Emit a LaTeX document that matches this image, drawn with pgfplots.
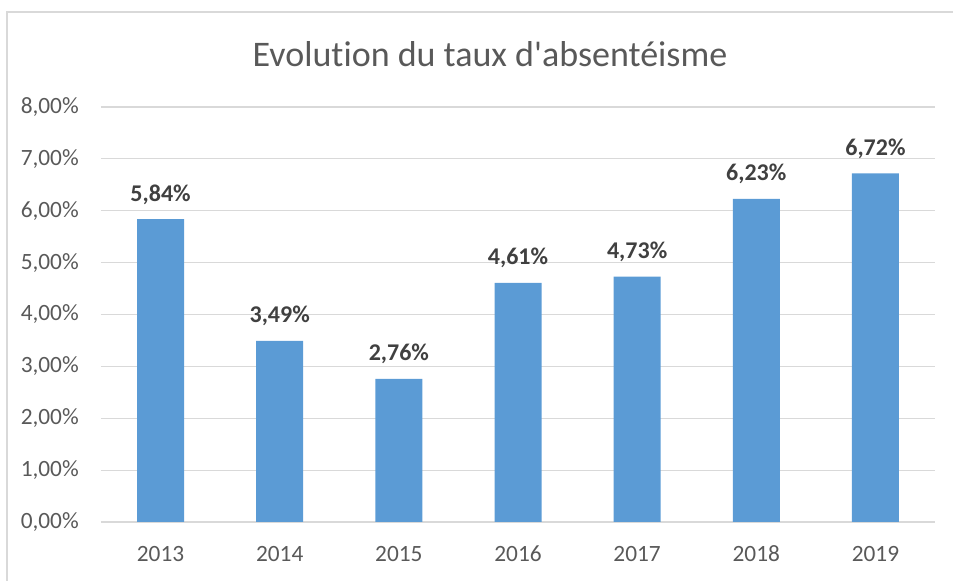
\documentclass[border=0pt]{standalone}
\usepackage{pgfplots}
\pgfplotsset{compat=1.18}
\usepackage{fontspec}
\setmainfont{Carlito}[Ligatures={TeXOff,CommonOff}]
\definecolor{barblue}{HTML}{5B9BD5}
\definecolor{txtgray}{HTML}{595959}
\definecolor{lblgray}{HTML}{404040}
\definecolor{gridgray}{HTML}{D9D9D9}
\begin{document}
\begin{tikzpicture}
\path[use as bounding box] (0,0) rectangle (714.75pt,435.75pt);
\draw[gridgray, line width=1pt] (5.25pt,0) -- (5.25pt,426.75pt) -- (714.75pt,426.75pt);
\begin{axis}[
  at={(75.75pt,44.25pt)}, anchor=south west,
  scale only axis, width=625.5pt, height=311.25pt,
  xmin=-0.5, xmax=6.5, ymin=0, ymax=8,
  xtick={0,1,2,3,4,5,6},
  xticklabels={2013,2014,2015,2016,2017,2018,2019},
  ytick={0,1,2,3,4,5,6,7,8},
  yticklabels={{0,00\%},{1,00\%},{2,00\%},{3,00\%},{4,00\%},{5,00\%},{6,00\%},{7,00\%},{8,00\%}},
  major tick length=0pt,
  axis line style={draw=none},
  ymajorgrids, major grid style={gridgray, line width=0.9pt},
  ticklabel style={font=\fontsize{17.5}{20}\selectfont, text=txtgray},
  yticklabel style={anchor=east, inner sep=0pt, xshift=-16.5pt},
  xticklabel style={anchor=base, inner sep=0pt, yshift=-30pt},
  clip=false,
]
\addplot[ybar, bar width=35.25pt, fill=barblue, draw=none,
  nodes near coords, point meta=explicit symbolic,
  nodes near coords style={anchor=base, inner sep=0pt, yshift=13.5pt, font=\fontsize{18}{20}\selectfont\bfseries, text=lblgray}]
coordinates {
 (0,5.84) [5,84\%]
 (1,3.49) [3,49\%]
 (2,2.76) [2,76\%]
 (3,4.61) [4,61\%]
 (4,4.73) [4,73\%]
 (5,6.23) [6,23\%]
 (6,6.72) [6,72\%]
};
\end{axis}
\node[anchor=base, inner sep=0pt, text=txtgray, font=\fontsize{27}{31}\selectfont] at (367.5pt,385.5pt) {Evolution du taux d'absentéisme};
\end{tikzpicture}
\end{document}
